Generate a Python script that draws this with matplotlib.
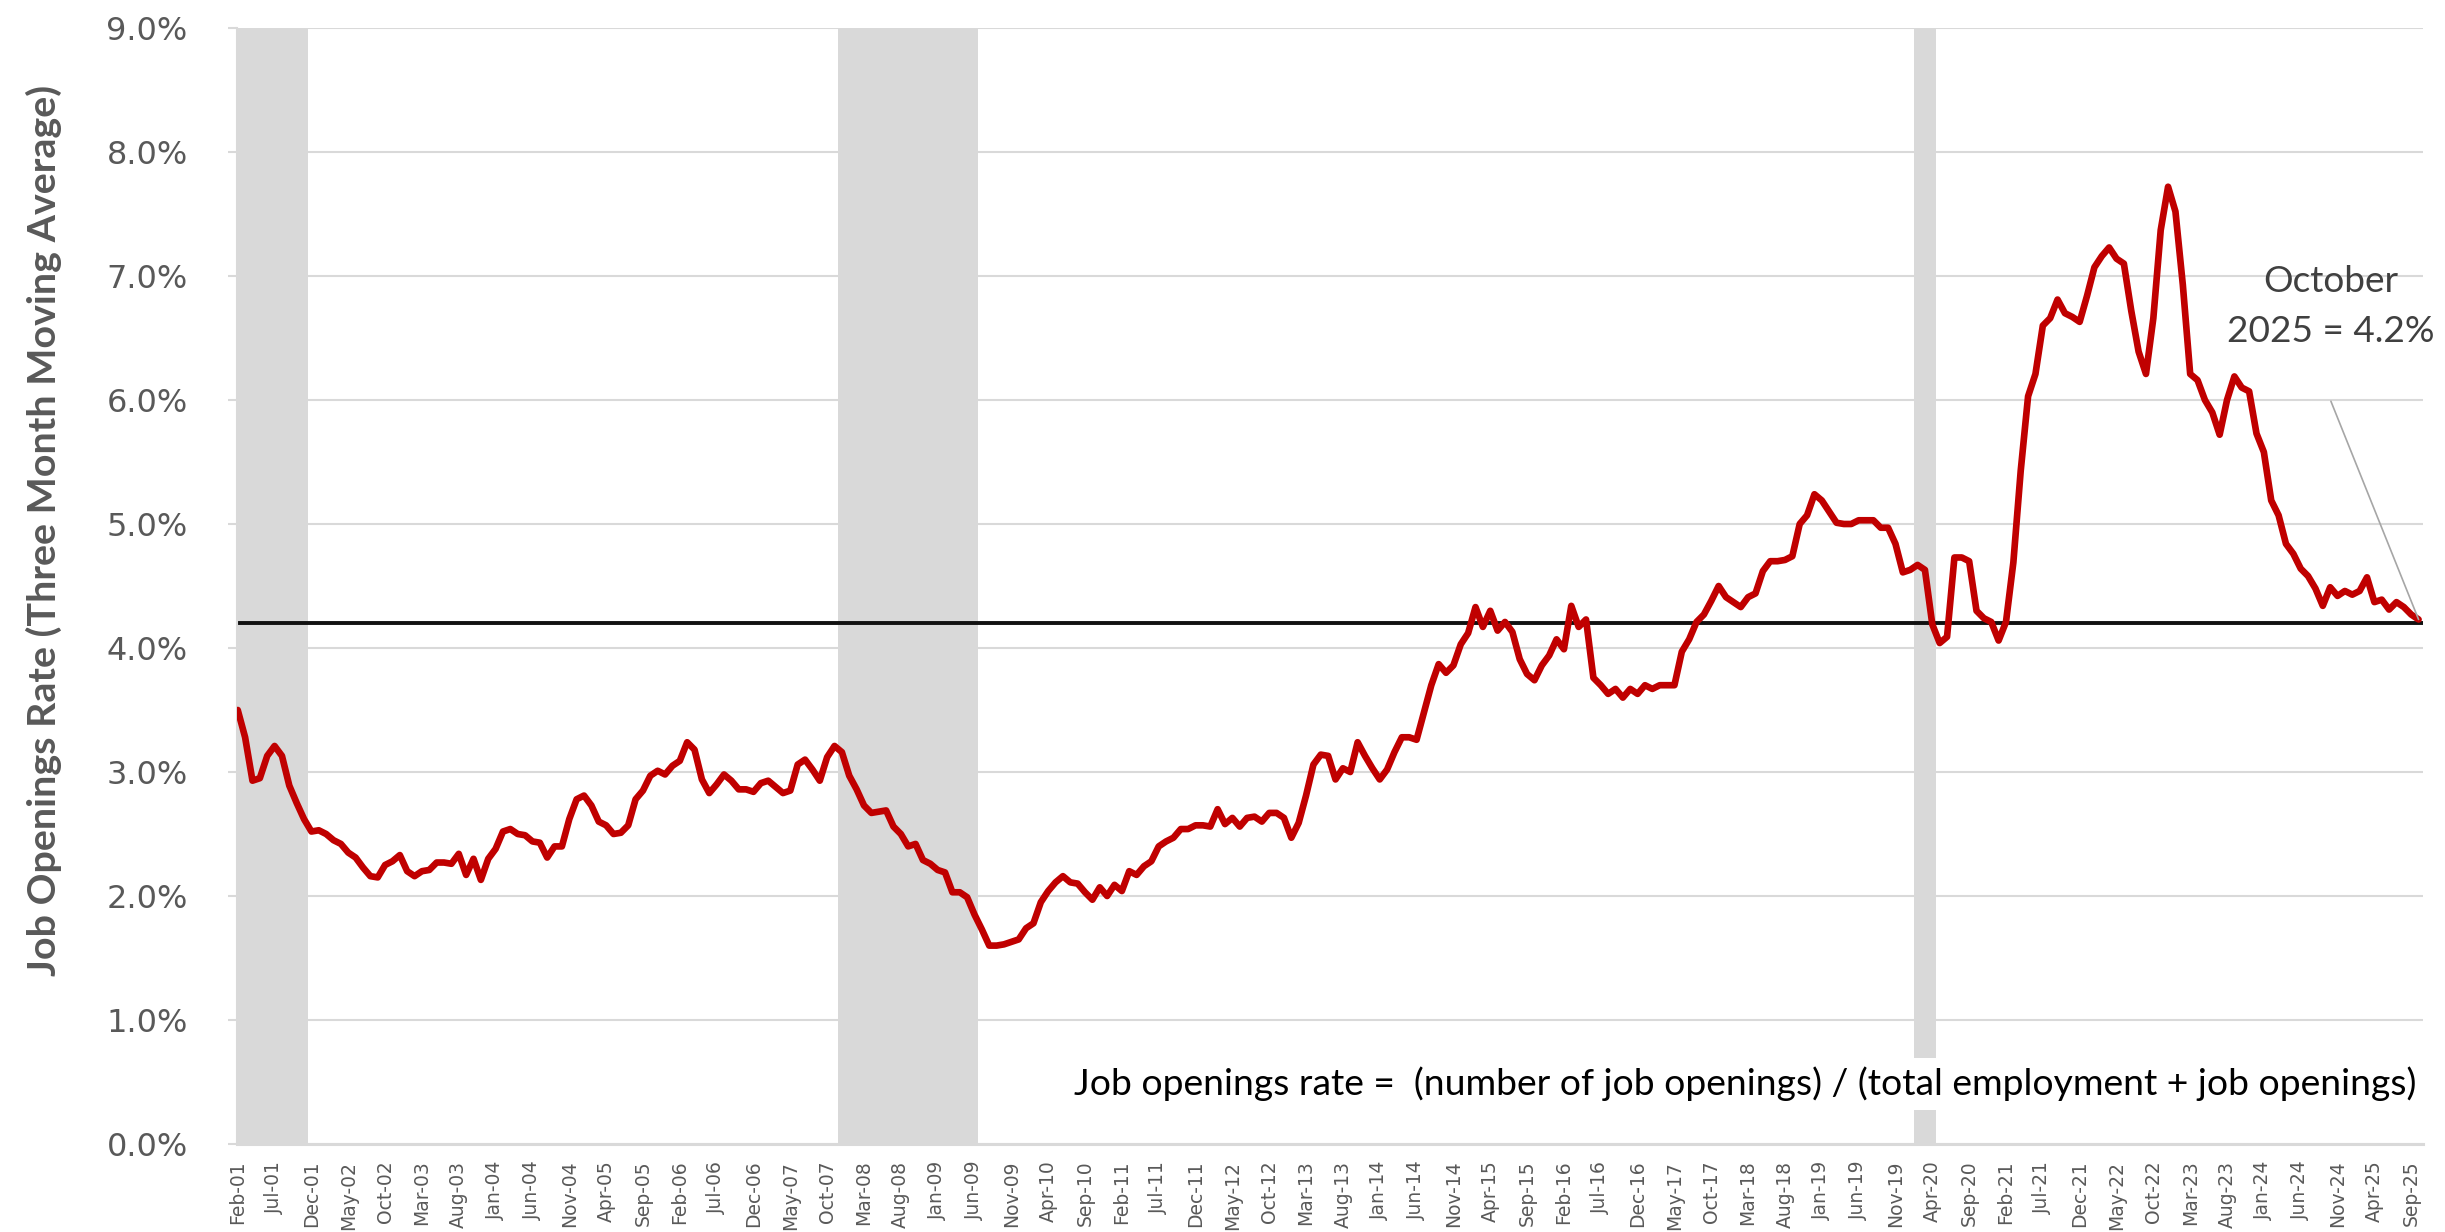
import numpy as np
import pandas as pd
import matplotlib
matplotlib.use("Agg")
import matplotlib.pyplot as plt

# ---------------- data ----------------
job_openings_rate = [
    3.50, 3.28, 2.93, 2.95, 3.13, 3.21, 3.13, 2.89, 2.75, 2.62,   # 2001-02 .. 2001-11
    2.52, 2.53, 2.50, 2.45, 2.42, 2.35, 2.31, 2.23, 2.16, 2.15,
    2.25, 2.28, 2.33, 2.20, 2.16, 2.20, 2.21, 2.27, 2.27, 2.26,
    2.34, 2.17, 2.30, 2.13, 2.30, 2.38, 2.52, 2.54, 2.50, 2.49,
    2.44, 2.43, 2.31, 2.40, 2.40, 2.62, 2.78, 2.81, 2.73, 2.60,
    2.57, 2.50, 2.51, 2.57, 2.78, 2.85, 2.97, 3.01, 2.98, 3.05,
    3.09, 3.24, 3.18, 2.94, 2.83, 2.90, 2.98, 2.93, 2.86, 2.86,
    2.84, 2.91, 2.93, 2.88, 2.83, 2.85, 3.06, 3.10, 3.02, 2.93,
    3.12, 3.21, 3.16, 2.97, 2.86, 2.73, 2.67, 2.68, 2.69, 2.56,
    2.50, 2.40, 2.42, 2.29, 2.26, 2.21, 2.19, 2.03, 2.03, 1.99,
    1.85, 1.73, 1.60, 1.60, 1.61, 1.63, 1.65, 1.74, 1.78, 1.95,
    2.04, 2.11, 2.16, 2.11, 2.10, 2.03, 1.97, 2.07, 2.00, 2.09,
    2.04, 2.20, 2.17, 2.24, 2.28, 2.40, 2.44, 2.47, 2.54, 2.54,
    2.57, 2.57, 2.56, 2.70, 2.58, 2.63, 2.56, 2.63, 2.64, 2.60,
    2.67, 2.67, 2.63, 2.47, 2.59, 2.81, 3.06, 3.14, 3.13, 2.94,
    3.03, 3.00, 3.24, 3.13, 3.03, 2.94, 3.02, 3.16, 3.28, 3.28,
    3.26, 3.48, 3.70, 3.87, 3.80, 3.86, 4.03, 4.12, 4.33, 4.17,
    4.30, 4.14, 4.21, 4.13, 3.91, 3.79, 3.74, 3.86, 3.94, 4.07,
    3.99, 4.34, 4.17, 4.23, 3.76, 3.70, 3.63, 3.67, 3.60, 3.67,
    3.63, 3.70, 3.67, 3.70, 3.70, 3.70, 3.97, 4.07, 4.21, 4.27,
    4.38, 4.50, 4.41, 4.37, 4.33, 4.41, 4.44, 4.62, 4.70, 4.70,
    4.71, 4.74, 5.00, 5.07, 5.24, 5.19, 5.10, 5.01, 5.00, 5.00,
    5.03, 5.03, 5.03, 4.97, 4.97, 4.84, 4.61, 4.63, 4.67, 4.63,
    4.19, 4.04, 4.09, 4.73, 4.73, 4.70, 4.30, 4.24, 4.21, 4.06,
    4.21, 4.69, 5.43, 6.03, 6.21, 6.60, 6.66, 6.81, 6.70, 6.67,
    6.63, 6.84, 7.07, 7.16, 7.23, 7.14, 7.10, 6.72, 6.39, 6.21,
    6.66, 7.37, 7.72, 7.52, 6.93, 6.21, 6.16, 6.00, 5.90, 5.72,
    6.00, 6.19, 6.10, 6.07, 5.73, 5.58, 5.19, 5.07, 4.84, 4.76,
    4.64, 4.58, 4.48, 4.34, 4.49, 4.42, 4.46, 4.43, 4.46, 4.57,
    4.37, 4.39, 4.31, 4.37, 4.33, 4.27, 4.23,                     # .. 2025-10
]
first_month = "2001-02-01"
recessions = [("2001-03", "2001-11"), ("2007-12", "2009-06"), ("2020-02", "2020-04")]
reference_rate = 4.2
y_ticks = [0, 1, 2, 3, 4, 5, 6, 7, 8, 9]
tick_every = 5
y_label = "Job Openings Rate (Three Month Moving Average)"
note_text = "Job openings rate =  (number of job openings) / (total employment + job openings)"
latest_line1 = "October"
latest_line2 = "2025 = 4.2%"

months = pd.date_range(first_month, periods=len(job_openings_rate), freq="MS")
month_labels = list(months.strftime("%b-%y"))
x = np.arange(len(months))

# ---------------- figure ----------------
W, H = 2445, 1232
fig = plt.figure(figsize=(W / 100, H / 100), dpi=100)
L, R, T, B = 237, 2423, 28, 1144
ax = fig.add_axes([L / W, 1 - B / H, (R - L) / W, (B - T) / H])

GRID = "#d9d9d9"
TXT = "#595959"

ax.set_xlim(-0.1, 296.6)
ax.set_ylim(0, 9)

# gridlines
ax.set_yticks(y_ticks)
ax.yaxis.grid(True, color=GRID, linewidth=1.5, zorder=0)
ax.set_axisbelow(True)

# recession shading
for s, e in recessions:
    i0 = months.get_loc(pd.Timestamp(s + "-01")) - 0.5
    i1 = months.get_loc(pd.Timestamp(e + "-01")) + 0.5
    if i0 < 1:
        i0 = 0.1
    ax.axvspan(i0, i1, color=GRID, lw=0, zorder=1)

# reference line
ax.axhline(reference_rate, color="#111111", lw=2.8, zorder=2)

# series
ax.plot(x, job_openings_rate, color="#C00000", lw=4.8, solid_joinstyle="round",
        solid_capstyle="round", zorder=3)

# axes styling
for sp in ["top", "right"]:
    ax.spines[sp].set_visible(False)
ax.spines["left"].set_color(GRID)
ax.spines["left"].set_linewidth(1.5)
ax.spines["bottom"].set_color(GRID)
ax.spines["bottom"].set_linewidth(2.2)
ax.spines["bottom"].set_zorder(4)

ax.set_yticklabels([f"{v:.1f}%" for v in y_ticks], fontsize=23, color=TXT,
                   family=["DejaVu Sans"])
ax.tick_params(axis="y", length=6.5, width=1.5, color=GRID, pad=29)

xt = x[::tick_every]
ax.set_xticks(xt)
ax.set_xticklabels([month_labels[i] for i in xt], rotation=90, fontsize=13.5,
                   color=TXT, family=["DejaVu Sans"])
ax.tick_params(axis="x", length=0, pad=12)
for lab in ax.get_xticklabels():
    lab.set_va("top")
    lab.set_ha("center")

# texts
ylab = fig.text(44 / W, 1 - 530 / H, y_label, rotation=90, ha="center", va="center",
                fontsize=26, fontweight="bold", color=TXT, family=["Lato", "DejaVu Sans"])

note = fig.text(2416 / W, 1 - 1084 / H, note_text, ha="right", va="center",
                fontsize=26, color="black", family=["Lato", "DejaVu Sans"], zorder=10,
                bbox=dict(facecolor="white", edgecolor="none", pad=6))

t1 = fig.text(2331 / W, 1 - 281 / H, latest_line1, ha="center", va="center",
              fontsize=27, color="#404040", family=["Lato", "DejaVu Sans"])
t2 = fig.text(2331 / W, 1 - 331 / H, latest_line2, ha="center", va="center",
              fontsize=27, color="#404040", family=["Lato", "DejaVu Sans"])

ax.annotate("", xy=(x[-1], job_openings_rate[-1]), xytext=(284.1, 5.99),
            arrowprops=dict(arrowstyle="-", color="#a6a6a6", lw=1.2,
                            shrinkA=0, shrinkB=0), zorder=5)


def fit(t, target, dim):
    fig.canvas.draw()
    bb = t.get_window_extent(fig.canvas.get_renderer())
    cur = bb.width if dim == "w" else bb.height
    t.set_fontsize(t.get_fontsize() * target / cur)


fit(ylab, 889, "h")
fit(note, 1339, "w")
fit(t2, 208, "w")
t1.set_fontsize(t2.get_fontsize())

fig.savefig("out.png", dpi=100, facecolor="white")
